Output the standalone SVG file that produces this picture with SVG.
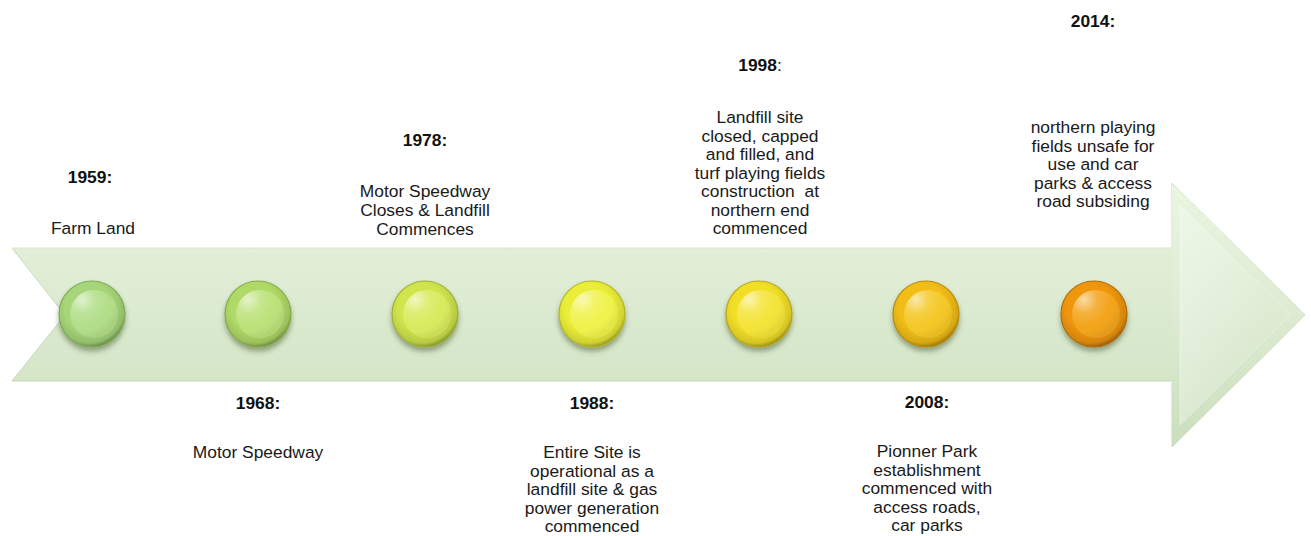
<svg xmlns="http://www.w3.org/2000/svg" width="1311" height="536" viewBox="0 0 1311 536">
  <style>
    text { font-family: "Liberation Sans", Arial, sans-serif; font-size: 17.4px; fill: #1a1a1a; text-anchor: middle; }
    .year { font-weight: bold; fill: #111; }
    .plain { font-weight: normal; }
    .pre { white-space: pre; }
    .rim { fill: url(#rimShade); }
    .cap { fill: url(#capShine); }
    .edge { fill: none; stroke-width: 1.2; }
  </style>
  <defs>
    <linearGradient id="bodyFill" x1="0" y1="0" x2="0" y2="1">
      <stop offset="0" stop-color="#e8f4df"/>
      <stop offset="1" stop-color="#cde0c0"/>
    </linearGradient>
    <linearGradient id="headFill" x1="0" y1="0" x2="0" y2="1">
      <stop offset="0" stop-color="#e9f6e1"/>
      <stop offset="0.5" stop-color="#dcebd1"/>
      <stop offset="1" stop-color="#cadfbd"/>
    </linearGradient>
    <linearGradient id="bevelFill" x1="0" y1="0" x2="1" y2="0">
      <stop offset="0" stop-color="#ffffff" stop-opacity="0.3"/>
      <stop offset="1" stop-color="#ffffff" stop-opacity="0"/>
    </linearGradient>
    <radialGradient id="rimShade" cx="0.45" cy="0.4" r="0.6">
      <stop offset="0.6" stop-color="#000" stop-opacity="0"/>
      <stop offset="0.9" stop-color="#000" stop-opacity="0.12"/>
      <stop offset="1" stop-color="#000" stop-opacity="0.35"/>
    </radialGradient>
    <!-- crescent-like sheen on the inner disc -->
    <radialGradient id="capShine" cx="0.25" cy="0.2" r="0.8">
      <stop offset="0" stop-color="#fff" stop-opacity="0.6"/>
      <stop offset="0.35" stop-color="#fff" stop-opacity="0.15"/>
      <stop offset="0.7" stop-color="#fff" stop-opacity="0"/>
      <stop offset="1" stop-color="#000" stop-opacity="0.06"/>
    </radialGradient>
    <filter id="drop" x="-30%" y="-30%" width="160%" height="170%">
      <feGaussianBlur in="SourceAlpha" stdDeviation="2.5"/>
      <feOffset dx="0" dy="4" result="b"/>
      <feFlood flood-color="#3a4a20" flood-opacity="0.45"/>
      <feComposite in2="b" operator="in" result="s"/>
      <feMerge><feMergeNode in="s"/><feMergeNode in="SourceGraphic"/></feMerge>
    </filter>
  </defs>

  <!-- timeline arrow -->
  <g id="arrow">
    <path d="M12,248 L1172,248 L1172,183 L1305,315 L1172,447 L1172,381 L12,381 L65,315 Z" fill="url(#bodyFill)" stroke="#c6d8b8" stroke-width="1"/>
    <path d="M1172,183 L1305,315 L1172,447 Z" fill="url(#headFill)"/>
    <path d="M1180,205 L1290,315 L1180,425 Z" fill="url(#bevelFill)" stroke="#ffffff" stroke-opacity="0.35" stroke-width="1"/>
    <path d="M12,248 L1172,248" stroke="#ffffff" stroke-opacity="0.5" stroke-width="1"/>
  </g>

  <!-- milestone markers -->
  <g id="marker-1959" filter="url(#drop)">
    <circle cx="92" cy="314" r="33" fill="#a6d679"/>
    <circle class="rim" cx="92" cy="314" r="33"/>
    <circle cx="94" cy="314" r="24" fill="#b2de88"/>
    <circle class="cap" cx="94" cy="314" r="24"/>
    <circle class="edge" cx="92" cy="314" r="33" stroke="#7fae55"/>
  </g>
  <g id="marker-1968" filter="url(#drop)">
    <circle cx="258" cy="314" r="33" fill="#b0da68"/>
    <circle class="rim" cx="258" cy="314" r="33"/>
    <circle cx="260" cy="314" r="24" fill="#bce27a"/>
    <circle class="cap" cx="260" cy="314" r="24"/>
    <circle class="edge" cx="258" cy="314" r="33" stroke="#86ad4a"/>
  </g>
  <g id="marker-1978" filter="url(#drop)">
    <circle cx="425" cy="314" r="33" fill="#cfe54c"/>
    <circle class="rim" cx="425" cy="314" r="33"/>
    <circle cx="427" cy="314" r="24" fill="#d8eb5e"/>
    <circle class="cap" cx="427" cy="314" r="24"/>
    <circle class="edge" cx="425" cy="314" r="33" stroke="#9fb236"/>
  </g>
  <g id="marker-1988" filter="url(#drop)">
    <circle cx="592" cy="314" r="33" fill="#ebee38"/>
    <circle class="rim" cx="592" cy="314" r="33"/>
    <circle cx="594" cy="314" r="24" fill="#f0f24c"/>
    <circle class="cap" cx="594" cy="314" r="24"/>
    <circle class="edge" cx="592" cy="314" r="33" stroke="#b5b628"/>
  </g>
  <g id="marker-1998" filter="url(#drop)">
    <circle cx="759" cy="314" r="33" fill="#f1df28"/>
    <circle class="rim" cx="759" cy="314" r="33"/>
    <circle cx="761" cy="314" r="24" fill="#f4e438"/>
    <circle class="cap" cx="761" cy="314" r="24"/>
    <circle class="edge" cx="759" cy="314" r="33" stroke="#b9a61c"/>
  </g>
  <g id="marker-2008" filter="url(#drop)">
    <circle cx="926" cy="314" r="33" fill="#f1bd14"/>
    <circle class="rim" cx="926" cy="314" r="33"/>
    <circle cx="928" cy="314" r="24" fill="#f4c826"/>
    <circle class="cap" cx="928" cy="314" r="24"/>
    <circle class="edge" cx="926" cy="314" r="33" stroke="#b98d10"/>
  </g>
  <g id="marker-2014" filter="url(#drop)">
    <circle cx="1094" cy="314" r="33" fill="#ef960e"/>
    <circle class="rim" cx="1094" cy="314" r="33"/>
    <circle cx="1096" cy="314" r="24" fill="#f3a41c"/>
    <circle class="cap" cx="1096" cy="314" r="24"/>
    <circle class="edge" cx="1094" cy="314" r="33" stroke="#b36f0a"/>
  </g>

  <!-- connectors: none in this timeline -->
  <g id="connectors"/>

  <!-- labels above the arrow -->
  <g id="label-1959">
    <text class="year" x="90" y="183">1959:</text>
    <text x="93" y="234">Farm Land</text>
  </g>
  <g id="label-1978">
    <text class="year" x="425" y="146">1978:</text>
    <text x="425" y="197">Motor Speedway</text>
    <text x="425" y="216">Closes &amp; Landfill</text>
    <text x="425" y="235">Commences</text>
  </g>
  <g id="label-1998">
    <text x="760" y="71"><tspan class="year">1998</tspan><tspan class="plain">:</tspan></text>
    <text x="760" y="123">Landfill site</text>
    <text x="760" y="141.5">closed, capped</text>
    <text x="760" y="160">and filled, and</text>
    <text x="760" y="178.5">turf playing fields</text>
    <text class="pre" x="760" y="197">construction  at</text>
    <text x="760" y="215.5">northern end</text>
    <text x="760" y="234">commenced</text>
  </g>
  <g id="label-2014">
    <text class="year" x="1093" y="27">2014:</text>
    <text x="1093" y="133">northern playing</text>
    <text x="1093" y="151.5">fields unsafe for</text>
    <text x="1093" y="170">use and car</text>
    <text x="1093" y="188.5">parks &amp; access</text>
    <text x="1093" y="207">road subsiding</text>
  </g>

  <!-- labels below the arrow -->
  <g id="label-1968">
    <text class="year" x="258" y="409">1968:</text>
    <text x="258" y="458">Motor Speedway</text>
  </g>
  <g id="label-1988">
    <text class="year" x="592" y="409">1988:</text>
    <text x="592" y="458">Entire Site is</text>
    <text x="592" y="476.5">operational as a</text>
    <text x="592" y="495">landfill site &amp; gas</text>
    <text x="592" y="513.5">power generation</text>
    <text x="592" y="532">commenced</text>
  </g>
  <g id="label-2008">
    <text class="year" x="927" y="408">2008:</text>
    <text x="927" y="457">Pionner Park</text>
    <text x="927" y="475.5">establishment</text>
    <text x="927" y="494">commenced with</text>
    <text x="927" y="512.5">access roads,</text>
    <text x="927" y="531">car parks</text>
  </g>
</svg>
